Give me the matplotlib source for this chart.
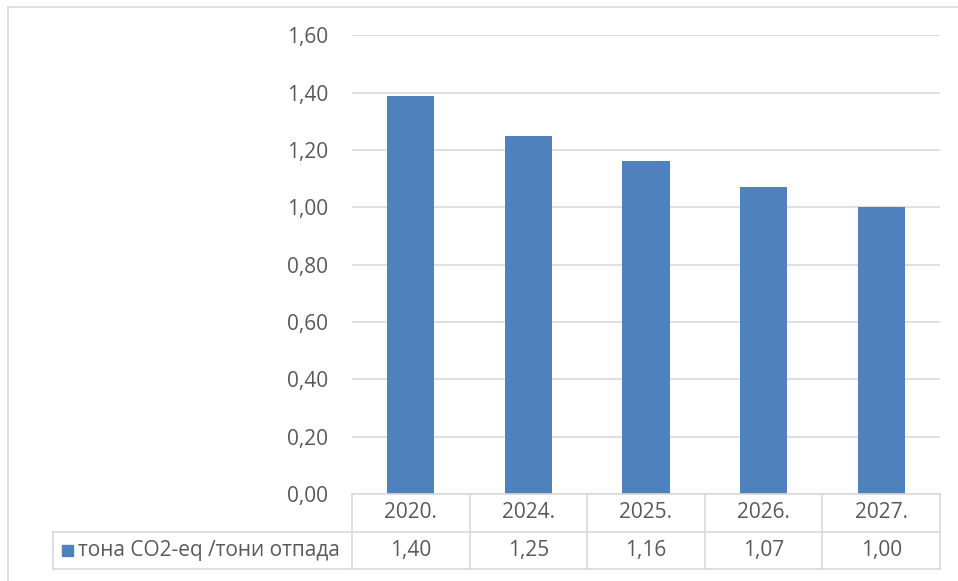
import matplotlib.pyplot as plt
from matplotlib.patches import Rectangle
from matplotlib.lines import Line2D

plt.rcParams['font.family'] = ['Open Sans', 'DejaVu Sans']

# data
years = ["2020.", "2024.", "2025.", "2026.", "2027."]
values = [1.39, 1.25, 1.16, 1.07, 1.00]
value_labels = ["1,40", "1,25", "1,16", "1,07", "1,00"]
series_name = "тона CO2-eq /тони отпада"
yticks = [0.0, 0.2, 0.4, 0.6, 0.8, 1.0, 1.2, 1.4, 1.6]

BLUE = "#4f81bd"
GRID = "#d9d9d9"
TEXT = "#595959"
FS = 15

W, H = 958, 581
fig = plt.figure(figsize=(W / 100, H / 100), dpi=100)


def fx(px):
    return px / W


def fy(py):
    return 1 - py / H


# outer chart border
fig.add_artist(Line2D([fx(8), 1], [fy(7), fy(7)], color=GRID, lw=1.2))
fig.add_artist(Line2D([fx(8), fx(8)], [fy(7), 0], color=GRID, lw=1.2))

left, right, top, bottom = 352, 940, 35.3, 494
ax = fig.add_axes([fx(left), fy(bottom), fx(right - left), (bottom - top) / H])

x = list(range(len(years)))
ax.bar(x, values, width=0.4, color=BLUE, zorder=3)
ax.set_xlim(-0.5, len(years) - 0.5)
ax.set_ylim(0, 1.6)
ax.set_yticks(yticks)
ax.set_yticklabels([f"{v:.2f}".replace(".", ",") for v in yticks])
ax.tick_params(axis="y", length=0, pad=17, labelsize=FS, labelcolor=TEXT)
ax.set_xticks([])
ax.grid(axis="y", color=GRID, lw=1.2, zorder=0)
for s in ax.spines.values():
    s.set_visible(False)

# data table below the plot
row1, row2, row3 = 494, 531.5, 569
cell_w = (right - left) / len(years)
lines = [
    ([left, right], [row1, row1]),
    ([53, right], [row2, row2]),
    ([53, right], [row3, row3]),
    ([53, 53], [row2, row3]),
]
for i in range(len(years) + 1):
    xe = left + i * cell_w
    lines.append(([xe, xe], [row1, row3]))
for xs, ys in lines:
    fig.add_artist(Line2D([fx(v) for v in xs], [fy(v) for v in ys], color=GRID, lw=1.2))

for i, (yr, lab) in enumerate(zip(years, value_labels)):
    cx = fx(left + (i + 0.5) * cell_w)
    fig.text(cx, fy((row1 + row2) / 2), yr, ha="center", va="center", fontsize=FS, color=TEXT)
    fig.text(cx, fy((row2 + row3) / 2), lab, ha="center", va="center", fontsize=FS, color=TEXT)

fig.add_artist(Rectangle((fx(62), fy(556)), fx(11), 11 / H, color=BLUE))
fig.text(fx(78), fy((row2 + row3) / 2), series_name, ha="left", va="center", fontsize=FS, color=TEXT)

fig.savefig("out.png", dpi=100)
